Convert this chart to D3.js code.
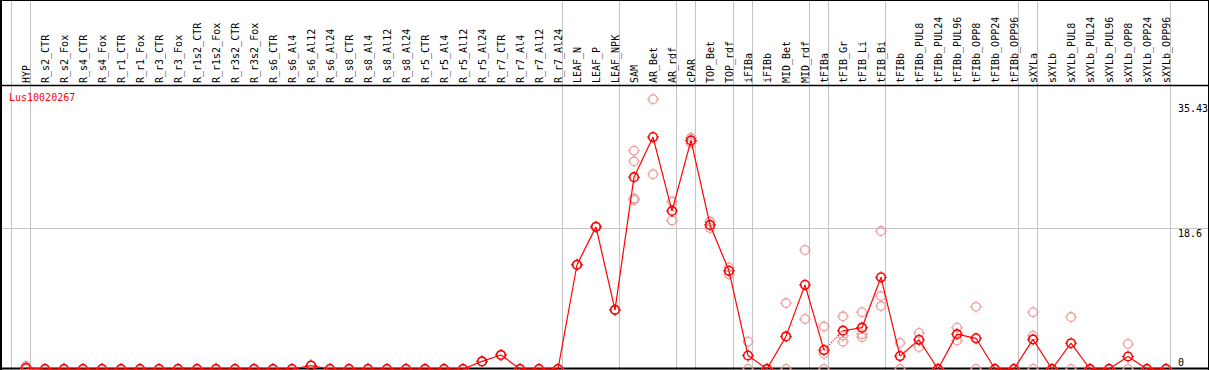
<!DOCTYPE html>
<html>
<head>
<meta charset="utf-8">
<script src="https://cdn.jsdelivr.net/npm/d3@7"></script>
<style>
  html, body { margin: 0; padding: 0; background: #fff; }
  svg { display: block; }
  text { font-family: "DejaVu Sans Mono", "Liberation Mono", monospace; font-size: 10px; }
</style>
</head>
<body>
<svg id="chart" width="1209" height="370"></svg>
<script>
const title = "Lus10020267";
const categories = ["HYP","R_s2_CTR","R_s2_Fox","R_s4_CTR","R_s4_Fox","R_r1_CTR","R_r1_Fox","R_r3_CTR","R_r3_Fox",
  "R_r1s2_CTR","R_r1s2_Fox","R_r3s2_CTR","R_r3s2_Fox","R_s6_CTR","R_s6_Al4","R_s6_Al12","R_s6_Al24",
  "R_s8_CTR","R_s8_Al4","R_s8_Al12","R_s8_Al24","R_r5_CTR","R_r5_Al4","R_r5_Al12","R_r5_Al24",
  "R_r7_CTR","R_r7_Al4","R_r7_Al12","R_r7_Al24","LEAF_N","LEAF_P","LEAF_NPK","SAM","AR_Bet","AR_rdf",
  "cPAR","TOP_Bet","TOP_rdf","iFIBa","iFIBb","MID_Bet","MID_rdf","tFIBa","tFIB_Gr","tFIB_Li","tFIB_Bi",
  "tFIBb","tFIBb_PUL8","tFIBb_PUL24","tFIBb_PUL96","tFIBb_OPP8","tFIBb_OPP24","tFIBb_OPP96",
  "sXYLa","sXYLb","sXYLb_PUL8","sXYLb_PUL24","sXYLb_PUL96","sXYLb_OPP8","sXYLb_OPP24","sXYLb_OPP96"];
const means = [0.15,0,0,0,0,0,0,0,0,
  0,0,0,0,0,0,0.45,0,
  0,0,0,0,0,0,0,1.0,
  1.85,0,0,0,13.75,18.75,7.8,25.3,30.6,20.85,
  30.15,19.0,12.95,1.78,0,4.3,11.1,2.5,5.05,5.45,12.1,
  1.7,3.85,0,4.6,4.05,0,0,
  3.9,0,3.4,0,0,1.65,0,0];
const replicates = [[0.4,0],[0,0],[0,0],[0,0],[0,0],[0,0],[0,0],[0,0],[0,0],
  [0,0],[0,0],[0,0],[0,0],[0,0],[0,0],[0.45,0.45],[0,0],
  [0,0],[0,0],[0,0],[0,0],[0,0],[0,0],[0,0],[1.0,1.0],
  [1.85,1.85],[0,0],[0,0],[0,0],[13.75,13.75],[18.75,18.75],[7.8,7.8],[28.8,27.4,22.5,22.3],[35.6,25.7],[22.1,19.6],
  [30.5,29.8],[19.45,18.6],[13.4,12.5],[3.6,0],[0,0],[8.7,0],[15.7,6.6],[5.6,2.0,0],[6.95,4.4,3.6],[7.5,4.6,4.2],[18.2,9.6,8.3],
  [3.45,0],[4.75,2.9],[0,0],[5.45,3.75],[8.2,0],[0,0],[0,0],
  [7.5,4.4,0],[0,0],[6.85,0],[0,0],[0,0],[3.3,0],[0,0],[0,0]];
const groupEnds = ["HYP","R_r7_Al24","LEAF_NPK","AR_rdf","cPAR","TOP_rdf","iFIBa","MID_rdf","tFIBa","tFIB_Bi","tFIBb_OPP96","sXYLa","sXYLb_OPP96"];
const dottedAfter = ["tFIBa"];
const yTicks = [0, 18.6, 35.43];

const svg = d3.select("#chart");
const W = 1209, H = 370;
const headerY = 85.5, bottomY = 368.5;

const xBand = d3.scaleBand().domain(categories).range([11, 11 + 19 * categories.length]).padding(0);
const bw = xBand.bandwidth();
const px = c => xBand(c) + bw * 15 / 19;
const y = d3.scaleLinear().domain([0, 18.6]).range([369, 228]);

// grid: vertical group separators
const seps = [xBand(categories[0])].concat(groupEnds.map(c => xBand(c) + bw));
svg.append("g").selectAll("line").data(seps).join("line")
  .attr("x1", d => Math.round(d) + 0.5).attr("x2", d => Math.round(d) + 0.5)
  .attr("y1", 0).attr("y2", H)
  .attr("stroke", "#c4c4c4").attr("stroke-width", 1);

// horizontal grid at 18.6
svg.append("line")
  .attr("x1", 0).attr("x2", W).attr("y1", Math.round(y(18.6)) + 0.5).attr("y2", Math.round(y(18.6)) + 0.5)
  .attr("stroke", "#c4c4c4").attr("stroke-width", 1);

// frame
svg.append("line").attr("x1", 0).attr("x2", W).attr("y1", 0.5).attr("y2", 0.5).attr("stroke", "#000");
svg.append("line").attr("x1", 0).attr("x2", W).attr("y1", headerY).attr("y2", headerY).attr("stroke", "#000").attr("stroke-width", 1.5);
svg.append("line").attr("x1", 0).attr("x2", W).attr("y1", bottomY).attr("y2", bottomY).attr("stroke", "#000").attr("stroke-width", 2);
svg.append("line").attr("x1", 1).attr("x2", 1).attr("y1", 0).attr("y2", H).attr("stroke", "#000").attr("stroke-width", 2);
svg.append("line").attr("x1", 1208.5).attr("x2", 1208.5).attr("y1", 0).attr("y2", H).attr("stroke", "#000").attr("stroke-width", 1);

// category labels (rotated)
svg.append("g").selectAll("text").data(categories).join("text")
  .attr("transform", d => `translate(${px(d) + 3.5},83) rotate(-90)`)
  .attr("text-anchor", "start")
  .attr("x", 0).attr("y", 0)
  .attr("fill", "#000")
  .text(d => d);

// y labels on right
const yLab = svg.append("g");
yLab.selectAll("text").data(yTicks).join("text")
  .attr("x", 1178)
  .attr("y", d => d === 0 ? 366 : (d === 18.6 ? y(d) + 9 : 112))
  .attr("fill", "#000")
  .text(d => d === 0 ? "0" : String(d));

// title
svg.append("text").attr("x", 9).attr("y", 101).attr("fill", "#ff0000").text(title);

// marker helper
function marker(g, color, sw) {
  g.append("circle").attr("r", 4.3).attr("fill", "none").attr("stroke", color).attr("stroke-width", sw);
  g.append("path").attr("d", "M0,-6V-4.5M0,4.5V6M-6,0H-4.5M4.5,0H6").attr("stroke", color).attr("stroke-width", 1);
}

// replicate points
const repData = [];
categories.forEach((c, i) => replicates[i].forEach(v => repData.push({c, v})));
svg.append("g").selectAll("g").data(repData).join("g")
  .attr("transform", d => `translate(${px(d.c)},${y(d.v)})`)
  .each(function() { marker(d3.select(this), "#ee9a9a", 1.3); });

// mean line segments
const segs = d3.pairs(categories.map((c, i) => ({c, v: means[i]})));
svg.append("g").selectAll("line").data(segs).join("line")
  .attr("x1", d => px(d[0].c)).attr("y1", d => y(d[0].v))
  .attr("x2", d => px(d[1].c)).attr("y2", d => y(d[1].v))
  .attr("stroke", "#ff0000").attr("stroke-width", 1.2)
  .attr("stroke-dasharray", d => dottedAfter.includes(d[0].c) ? "1,1.5" : null);

// mean points
svg.append("g").selectAll("g").data(categories.map((c, i) => ({c, v: means[i]}))).join("g")
  .attr("transform", d => `translate(${px(d.c)},${y(d.v)})`)
  .each(function() { marker(d3.select(this), "#ff0000", 1.6); });
</script>
</body>
</html>
